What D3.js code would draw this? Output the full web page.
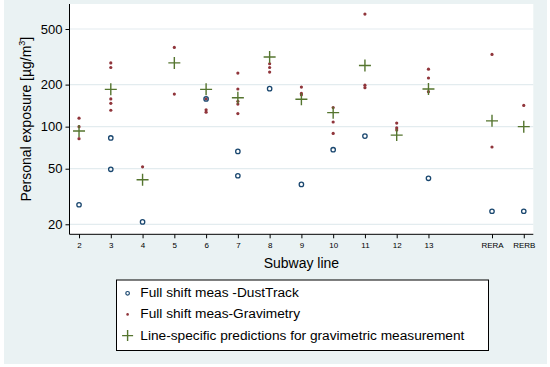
<!DOCTYPE html>
<html><head><meta charset="utf-8">
<script src="https://cdn.jsdelivr.net/npm/d3@7"></script>
<style>body{margin:0;background:#fff}svg{display:block;font-family:"Liberation Sans",Arial,sans-serif}</style>
</head><body><svg id="c" width="550" height="367"></svg>
<script>
const lines = ["2","3","4","5","6","7","8","9","10","11","12","13","RERA","RERB"];
const linePos = [2,3,4,5,6,7,8,9,10,11,12,13,15,16];
const dustTrack = [[27.6],[83,49.5],[20.8],[],[158],[66.5,44.5],[187],[38.6],[68.4],[85.6],[],[42.7],[24.8],[24.8]];
const gravimetry = [[115,100,82],[286,265,158,147,131],[51.6],[369,171],[158,132,127],[242,186,152,145,124],[282,265,246],[192,173,169],[137,108,89.5],[639,198,190],[106,98,94.5],[258,223,178],[329,71.5],[142]];
const predictions = [93,185,41.7,286,185,161,315,157,126,274,87,186,110,100];
const yTicks = [20,50,100,200,500];
const legendLabels = ["Full shift meas -DustTrack","Full shift meas-Gravimetry","Line-specific predictions for gravimetric measurement"];

const svg = d3.select("#c");
svg.append("rect").attr("x",4).attr("y",0).attr("width",543).attr("height",364).attr("fill","#eaf2f3");
const L=69.5,R=533.3,T=4,B=234.3;
svg.append("rect").attr("x",L).attr("y",T).attr("width",R-L).attr("height",B-T).attr("fill","#fff");
const x = d3.scaleLinear().domain([1.7,16.3]).range([L,R]);
const y = d3.scaleLog().domain([16.96,755]).range([B,T]);

// gridlines
svg.append("g").selectAll("line").data(yTicks).join("line")
  .attr("x1",L).attr("x2",R).attr("y1",d=>y(d)).attr("y2",d=>y(d))
  .attr("stroke","#e3ecef").attr("stroke-width",1.2);

// axes
const yAxis = d3.axisLeft(y).tickValues(yTicks).tickFormat(d3.format("d")).tickSize(4).tickPadding(3);
const gy = svg.append("g").attr("transform",`translate(${L},0)`).call(yAxis);
gy.select(".domain").attr("d",`M0,${T}V${B}`);
gy.selectAll("text").attr("font-size",13).attr("fill","#000");
const xAxis = d3.axisBottom(x).tickValues(linePos).tickFormat((d,i)=>lines[i]).tickSize(4).tickPadding(4);
const gx = svg.append("g").attr("transform",`translate(0,${B})`).call(xAxis);
gx.select(".domain").attr("d",`M${L},0H${R}`);
gx.selectAll("text").attr("font-size",8).attr("fill","#000");
svg.selectAll(".domain").attr("stroke","#000");
svg.selectAll(".tick line").attr("stroke","#000");

svg.append("text").attr("transform",`translate(31,${(T+B)/2}) rotate(-90)`).attr("text-anchor","middle")
  .attr("font-size",14).html('Personal exposure [µg/m<tspan dy="-6" font-size="9">3</tspan><tspan dy="6">]</tspan>');
svg.append("text").attr("x",(L+R)/2).attr("y",268).attr("text-anchor","middle").attr("font-size",14).text("Subway line");

const blue="#1a476f", red="#90353b", green="#55752f";
const pts = (arr)=>arr.flatMap((vals,i)=>vals.map(v=>({x:linePos[i],v})));
svg.append("g").selectAll("circle").data(pts(gravimetry)).join("circle")
  .attr("cx",d=>x(d.x)).attr("cy",d=>y(d.v)).attr("r",1.6).attr("fill",red);
svg.append("g").selectAll("circle").data(pts(dustTrack)).join("circle")
  .attr("cx",d=>x(d.x)).attr("cy",d=>y(d.v)).attr("r",2.2).attr("fill","none").attr("stroke",blue).attr("stroke-width",1.3);
const cross = (g,cx,cy,s)=>g.append("path").attr("d",`M${cx-s},${cy}H${cx+s}M${cx},${cy-s}V${cy+s}`).attr("stroke",green).attr("stroke-width",1.4).attr("fill","none");
const gc = svg.append("g");
predictions.forEach((v,i)=>cross(gc,x(linePos[i]),y(v),6));

// legend
const lg = svg.append("g");
lg.append("rect").attr("x",116.5).attr("y",280).attr("width",372).attr("height",70.5).attr("fill","#fff").attr("stroke","#000").attr("stroke-width",1);
const rowsY=[292.3,313.4,334.6];
lg.append("circle").attr("cx",127.6).attr("cy",rowsY[0]+1).attr("r",1.8).attr("fill","none").attr("stroke",blue).attr("stroke-width",1.2);
lg.append("circle").attr("cx",127.6).attr("cy",rowsY[1]+1).attr("r",1.3).attr("fill",red);
cross(lg,127.6,rowsY[2]+1,5.5);
lg.selectAll("text").data(legendLabels).join("text").attr("x",140.3).attr("y",(d,i)=>rowsY[i]).attr("dy","0.36em")
  .attr("font-size",13.7).text(d=>d);
</script></body></html>
